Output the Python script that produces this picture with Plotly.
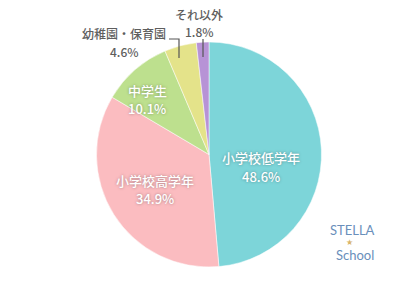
import plotly.graph_objects as go

labels = ["小学校低学年", "小学校高学年", "中学生", "幼稚園・保育園", "それ以外"]
values = [48.6, 34.9, 10.1, 4.6, 1.8]
colors = ["#7dd5d9", "#fbbcc0", "#bde08e", "#e4e38a", "#b793d6"]

W, H = 420, 298
cx, cy, r = 209, 154.5, 112.5

def px(x):
    return x / W

def py(y):
    return 1 - y / H

fig = go.Figure(go.Pie(
    labels=labels,
    values=values,
    sort=False,
    direction="clockwise",
    rotation=0,
    marker=dict(colors=colors, line=dict(color="white", width=0.5)),
    textinfo="none",
    domain=dict(x=[px(cx - r), px(cx + r)], y=[py(cy + r), py(cy - r)]),
    showlegend=False,
    hoverinfo="label+percent",
))

white_font = dict(family="Noto Sans CJK JP", size=13, color="white", weight=500,
                  shadow="0px 0px 3px rgba(0,0,0,0.35)")
gray_font = dict(family="Noto Sans CJK JP", size=12, color="#5e5e5e", weight=500)

# label anchor positions (pixels) for each slice: (x, y_label, y_value)
pos = [(261, 157, 176), (155, 180, 198), (147, 91, 109), (124, 33, 52), (199, 15, 32)]

ann = []
for i, (l, v) in enumerate(zip(labels, values)):
    x, y1, y2 = pos[i]
    f = white_font if i < 3 else gray_font
    ann.append(dict(x=px(x), y=py(y1), text=l, showarrow=False, font=f,
                    xanchor="center", yanchor="middle"))
    ann.append(dict(x=px(x), y=py(y2), text=f"{v}%", showarrow=False, font=f,
                    xanchor="center", yanchor="middle"))

ann += [
    dict(x=px(352), y=py(230), text="STELLA", showarrow=False, xanchor="center", yanchor="middle",
         font=dict(family="Lato", size=13, color="#6a8fbb")),
    dict(x=px(349), y=py(242.5), text="★", showarrow=False, xanchor="center", yanchor="middle",
         font=dict(family="DejaVu Sans", size=8, color="#d9b56a")),
    dict(x=px(355), y=py(255), text="School", showarrow=False, xanchor="center", yanchor="middle",
         font=dict(family="Lato", size=13, color="#6a8fbb")),
]

shapes = [
    dict(type="path", xref="paper", yref="paper",
         path=f"M {px(169)} {py(39)} L {px(179)} {py(39)} L {px(179)} {py(58)}",
         line=dict(color="#555555", width=1.2)),
    dict(type="line", xref="paper", yref="paper",
         x0=px(203), y0=py(39), x1=px(203), y1=py(57),
         line=dict(color="#555555", width=1.2)),
]

fig.update_layout(
    width=W, height=H,
    margin=dict(l=0, r=0, t=0, b=0),
    paper_bgcolor="white",
    plot_bgcolor="white",
    annotations=ann,
    shapes=shapes,
)

fig.write_html("out.html")
